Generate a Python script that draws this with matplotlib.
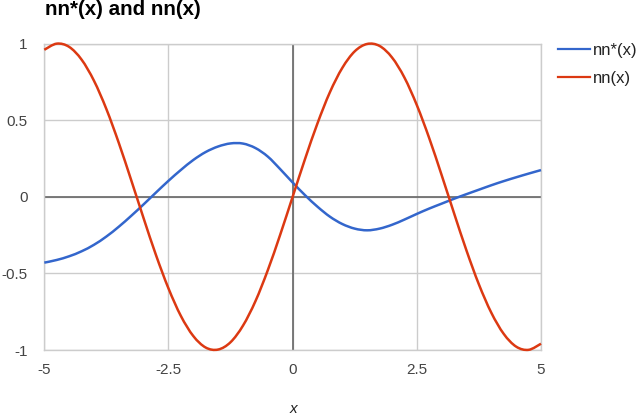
import numpy as np
import matplotlib
matplotlib.use("Agg")
import matplotlib.pyplot as plt
from matplotlib.path import Path
from matplotlib.patches import PathPatch
from matplotlib.lines import Line2D

plt.rcParams['font.family'] = ['Liberation Sans', 'DejaVu Sans']

x_vals = np.linspace(-5, 5, 41)
nn_star = [-0.430, -0.4125, -0.3885, -0.356, -0.3135, -0.2595, -0.1955, -0.1245, -0.0495, 0.028,
           0.104, 0.175, 0.240, 0.292, 0.328, 0.348, 0.347, 0.318, 0.262, 0.180,
           0.093, 0.010, -0.065, -0.130, -0.178, -0.208, -0.219, -0.208, -0.183, -0.149,
           -0.112, -0.077, -0.045, -0.013, 0.017, 0.046, 0.075, 0.102, 0.127, 0.151, 0.174]
nn = [0.959, 0.999, 0.978, 0.895, 0.757, 0.572, 0.351, 0.108, -0.141, -0.382,
      -0.598, -0.778, -0.909, -0.984, -0.997, -0.949, -0.841, -0.682, -0.479, -0.247,
      0.0, 0.247, 0.479, 0.682, 0.841, 0.949, 0.997, 0.984, 0.909, 0.778,
      0.598, 0.382, 0.141, -0.108, -0.351, -0.572, -0.757, -0.895, -0.978, -0.999, -0.959]
x_ticks = [-5, -2.5, 0, 2.5, 5]
x_tick_labels = ['-5', '-2.5', '0', '2.5', '5']
y_ticks = [-1, -0.5, 0, 0.5, 1]
y_tick_labels = ['-1', '-0.5', '0', '0.5', '1']
series_labels = ['nn*(x)', 'nn(x)']
series_colors = ['#3366cc', '#dc3912']
title = 'nn*(x) and nn(x)'
x_label = 'x'


def smooth_path(xs, ys):
    """Catmull-Rom curve through the data points, as cubic Bezier segments."""
    p = np.column_stack([xs, ys]).astype(float)
    ext = np.vstack([p[0], p, p[-1]])
    verts = [p[0]]
    codes = [Path.MOVETO]
    for i in range(len(p) - 1):
        p0, p1, p2, p3 = ext[i], ext[i + 1], ext[i + 2], ext[i + 3]
        c1 = p1 + (p2 - p0) / 6.0
        c2 = p2 - (p3 - p1) / 6.0
        verts += [c1, c2, p2]
        codes += [Path.CURVE4] * 3
    return Path(verts, codes)


fig = plt.figure(figsize=(6.4, 4.16), dpi=100)
ax = fig.add_axes([44.3/640, 1-350/416, (541-44.3)/640, (350-43.5)/416])

ax.set_xlim(-5, 5)
ax.set_ylim(-1, 1)
ax.set_xticks(x_ticks)
ax.set_xticklabels(x_tick_labels)
ax.set_yticks(y_ticks)
ax.set_yticklabels(y_tick_labels)
ax.grid(True, color='#cccccc', linewidth=1.0)
ax.set_axisbelow(True)
for s in ax.spines.values():
    s.set_color('#cccccc')
    s.set_linewidth(1.0)
ax.axhline(0, color='#666666', linewidth=1.2, zorder=1.5)
ax.axvline(0, color='#666666', linewidth=1.2, zorder=1.5)
ax.tick_params(length=0, labelsize=11, colors='#444444')
ax.tick_params(axis='y', pad=12)
ax.tick_params(axis='x', pad=9)

handles = []
for ys, col, lab in zip([nn_star, nn], series_colors, series_labels):
    patch = PathPatch(smooth_path(x_vals, ys), facecolor='none', edgecolor=col,
                      linewidth=1.8, zorder=3, clip_on=False)
    ax.add_patch(patch)
    handles.append(Line2D([], [], color=col, linewidth=1.6, label=lab))

fig.text(293/640, 1-409/416, x_label, fontstyle='italic', fontsize=11, color='#222222',
         ha='center', va='center')

fig.text(45/640, 1-15/416, title, fontsize=14.8, fontweight='bold', va='baseline', ha='left', color='#000000')

leg = ax.legend(handles=handles, loc='upper left', bbox_to_anchor=(558/640, 1-43/416),
                bbox_transform=fig.transFigure, frameon=False, fontsize=12,
                handlelength=1.9, handletextpad=0.2, labelspacing=0.75, borderpad=0, borderaxespad=0)
for t in leg.get_texts():
    t.set_color('#222222')

fig.savefig('out.png', dpi=100)
